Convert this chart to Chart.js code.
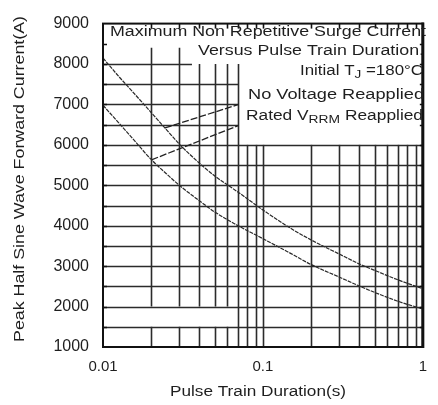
<!DOCTYPE html>
<html>
<head>
<meta charset="utf-8">
<script src="https://cdn.jsdelivr.net/npm/chart.js@4.4.1/dist/chart.umd.min.js"></script>
<style>
  html, body { margin: 0; padding: 0; background: #fff; }
</style>
</head>
<body>
<canvas id="surgeChart" width="438" height="405"></canvas>
<script>
// pulse train duration (s) vs peak surge current (A)
const durations = [0.01, 0.0125, 0.015, 0.02, 0.025, 0.03, 0.04, 0.05, 0.07, 0.1, 0.15, 0.2, 0.3, 0.4, 0.5, 0.7, 1];
const noVoltage = [8150, 7700, 7355, 6800, 6370, 6020, 5550, 5230, 4830, 4390, 3930, 3650, 3300, 3055, 2895, 2660, 2440];
const ratedVrrm = [6980, 6550, 6200, 5640, 5280, 5000, 4620, 4340, 4000, 3680, 3310, 3040, 2730, 2510, 2350, 2130, 1940];

// leader lines from the labels to the curves: [duration, current]
const noVoltageLeader = [[0.0244, 6420], [0.0705, 7000]];
const ratedLeader = [[0.0201, 5630], [0.0705, 6480]];

const xTicks = [0.01, 0.1, 1];
const xTickLabels = ["0.01", "0.1", "1"];
const xGrid = [0.02, 0.03, 0.04, 0.05, 0.06, 0.07, 0.08, 0.09, 0.1, 0.2, 0.3, 0.4, 0.5, 0.6, 0.7, 0.8, 0.9];
const yGrid = [1500, 2000, 2500, 3000, 3500, 4000, 4500, 5000, 5500, 6000, 6500, 7000, 7500, 8000, 8500];

const FONT = '"Liberation Sans", Arial, sans-serif';
const INK = "#1e1e1e";

function toPoints(xs, ys) {
  return xs.map((x, i) => ({ x: x, y: ys[i] }));
}

// where the legend box hides the grid (in data units)
function hSpan(v) {
  if (v === 8500) return null;
  if (v === 8000) return [0.01, 0.036];
  if (v >= 6500) return [0.01, 0.0705];
  return [0.01, 1];
}

function vSegments(v) {
  let top = 6000;
  if (v < 0.036) top = 8400;
  else if (v <= 0.0705) top = 8000;
  if (v < 0.065) return [[1000, 1500], [2000, top]];
  return [[1000, top]];
}

// text stretched sideways to a given width, like the scanned original
function fitText(ctx, parts, right, cy, width, size) {
  let w = 0;
  parts.forEach(([t, sub]) => {
    ctx.font = (sub ? size * 0.8 : size) + "px " + FONT;
    w += ctx.measureText(t).width;
  });
  const k = width / w;
  ctx.save();
  ctx.translate(right - width, cy);
  ctx.scale(k, 1);
  let x = 0;
  parts.forEach(([t, sub]) => {
    ctx.font = (sub ? size * 0.8 : size) + "px " + FONT;
    ctx.fillText(t, x, sub ? size * 0.3 : 0);
    x += ctx.measureText(t).width;
  });
  ctx.restore();
}

const gridPlugin = {
  id: "gridPlugin",
  beforeDatasetsDraw(chart) {
    const ctx = chart.ctx;
    const xs = chart.scales.x, ys = chart.scales.y;
    ctx.save();
    ctx.strokeStyle = "#2b2b2b";
    ctx.lineWidth = 1.6;
    yGrid.forEach((v) => {
      const span = hSpan(v);
      if (!span) return;
      const py = Math.round(ys.getPixelForValue(v)) + 0.5;
      ctx.beginPath();
      ctx.moveTo(xs.getPixelForValue(span[0]), py);
      ctx.lineTo(xs.getPixelForValue(span[1]), py);
      ctx.stroke();
    });
    xGrid.forEach((v) => {
      const px = Math.round(xs.getPixelForValue(v)) + 0.5;
      vSegments(v).forEach((seg) => {
        ctx.beginPath();
        ctx.moveTo(px, ys.getPixelForValue(seg[0]));
        ctx.lineTo(px, ys.getPixelForValue(seg[1]));
        ctx.stroke();
      });
    });
    ctx.restore();
  },
  afterDatasetsDraw(chart) {
    const ctx = chart.ctx;
    const a = chart.chartArea;
    const xs = chart.scales.x, ys = chart.scales.y;
    ctx.save();
    ctx.strokeStyle = "#111";
    ctx.lineWidth = 1.6;
    // small edge ticks
    xGrid.forEach((v) => {
      const px = Math.round(xs.getPixelForValue(v)) + 0.5;
      ctx.beginPath();
      ctx.moveTo(px, a.top);
      ctx.lineTo(px, a.top + 5);
      ctx.stroke();
    });
    yGrid.forEach((v) => {
      const py = Math.round(ys.getPixelForValue(v)) + 0.5;
      ctx.beginPath();
      ctx.moveTo(a.left, py);
      ctx.lineTo(a.left + 4, py);
      ctx.moveTo(a.right, py);
      ctx.lineTo(a.right - 3, py);
      ctx.stroke();
    });
    // frame
    ctx.lineWidth = 2;
    ctx.strokeRect(a.left, a.top, a.right - a.left, a.bottom - a.top);
    ctx.lineWidth = 3;
    ctx.beginPath();
    ctx.moveTo(a.right, a.top - 1);
    ctx.lineTo(a.right, a.bottom + 1);
    ctx.stroke();

    // legend box text
    ctx.fillStyle = INK;
    ctx.textBaseline = "middle";
    ctx.textAlign = "left";
    fitText(ctx, [["Maximum Non Repetitive Surge Current", false]], 426, 32, 316, 14);
    fitText(ctx, [["Versus Pulse Train Duration.", false]], 424, 51, 226, 14);
    fitText(ctx, [["Initial T", false], ["J", true], [" =180°C", false]], 423, 71, 123, 14);
    fitText(ctx, [["No Voltage Reapplied", false]], 424, 95, 176, 14);
    fitText(ctx, [["Rated V", false], ["RRM", true], [" Reapplied", false]], 423, 116, 177, 14);

    // axis titles
    fitText(ctx, [["Pulse Train Duration(s)", false]], 258 + 88, 392, 176, 14);
    ctx.translate(20, 179);
    ctx.rotate(-Math.PI / 2);
    fitText(ctx, [["Peak Half Sine Wave Forward Current(A)", false]], 163, 0, 326, 14);
    ctx.restore();
  },
};

const curveStyle = {
  borderColor: "#2a2a2a",
  borderWidth: 1.2,
  borderDash: [4, 1],
  pointRadius: 0,
  fill: false,
  cubicInterpolationMode: "monotone",
};

new Chart(document.getElementById("surgeChart"), {
  type: "line",
  data: {
    datasets: [
      Object.assign({ label: "No Voltage Reapplied", data: toPoints(durations, noVoltage) }, curveStyle),
      Object.assign({ label: "Rated VRRM Reapplied", data: toPoints(durations, ratedVrrm) }, curveStyle),
      {
        label: "leader1",
        data: noVoltageLeader.map((p) => ({ x: p[0], y: p[1] })),
        borderColor: "#222",
        borderWidth: 1.3,
        borderDash: [7, 2],
        pointRadius: 0,
      },
      {
        label: "leader2",
        data: ratedLeader.map((p) => ({ x: p[0], y: p[1] })),
        borderColor: "#222",
        borderWidth: 1.3,
        borderDash: [7, 2],
        pointRadius: 0,
      },
    ],
  },
  options: {
    responsive: false,
    animation: false,
    layout: { padding: { top: 15, right: 4, left: 0, bottom: 0 } },
    plugins: { legend: { display: false }, tooltip: { enabled: false } },
    scales: {
      x: {
        type: "logarithmic",
        min: 0.01,
        max: 1,
        grid: { display: false, drawTicks: false },
        border: { display: false },
        afterBuildTicks: (s) => {
          s.ticks = xTicks.map((v) => ({ value: v }));
        },
        afterFit: (s) => {
          s.height = 58;
        },
        ticks: {
          autoSkip: false,
          maxRotation: 0,
          padding: 11,
          color: INK,
          font: { family: FONT, size: 15 },
          callback: (v) => {
            const i = xTicks.indexOf(v);
            return i >= 0 ? xTickLabels[i] : "";
          },
        },
      },
      y: {
        min: 1000,
        max: 9000,
        grid: { display: false, drawTicks: false },
        border: { display: false },
        afterFit: (s) => {
          s.width = 103;
        },
        ticks: {
          stepSize: 1000,
          padding: 14,
          color: INK,
          font: { family: FONT, size: 16 },
          callback: (v) => String(v),
        },
      },
    },
  },
  plugins: [gridPlugin],
});
</script>
</body>
</html>
